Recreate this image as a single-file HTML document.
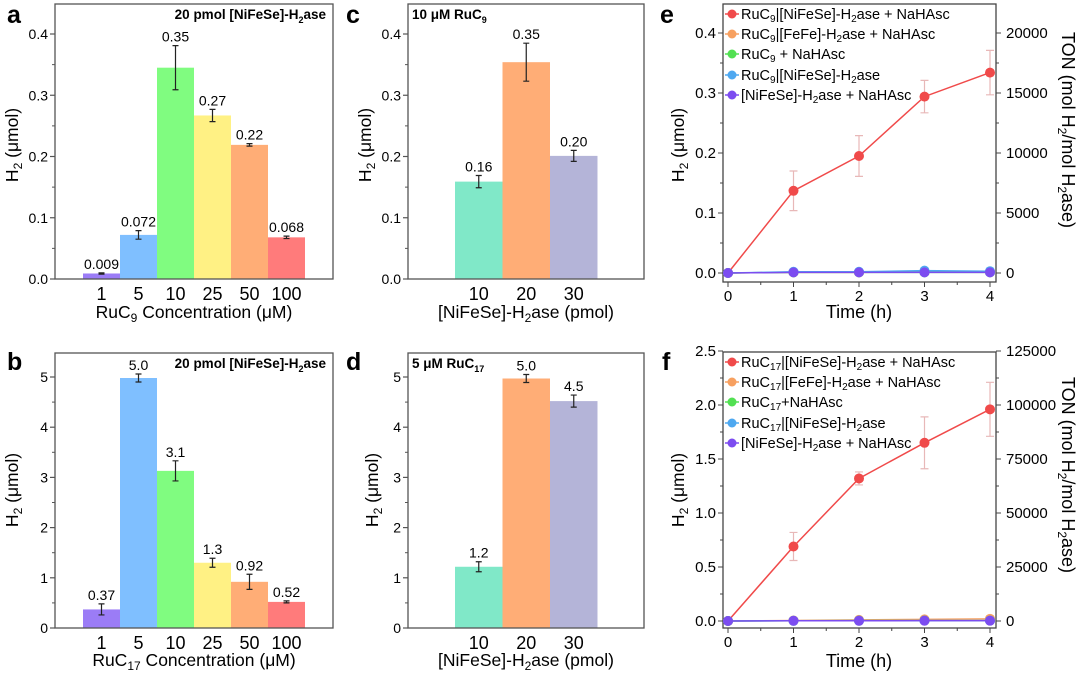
<!DOCTYPE html>
<html><head><meta charset="utf-8"><style>
html,body{margin:0;padding:0;background:#fff;}
svg{display:block;font-family:"Liberation Sans",Arial,sans-serif;}
</style></head><body>
<svg id="fig" width="1080" height="674" viewBox="0 0 1080 674" xmlns="http://www.w3.org/2000/svg">
<g font-weight="bold" font-size="25" fill="#000">
<text x="7" y="23">a</text>
<text x="7" y="370">b</text>
<text x="346" y="23">c</text>
<text x="346" y="370">d</text>
<text x="660" y="23">e</text>
<text x="662" y="370">f</text>
</g>
<g font-weight="bold" font-size="13.5">
<text x="326" y="19" text-anchor="end">20 pmol [NiFeSe]-H<tspan font-size="9" dy="4">2</tspan><tspan dy="-4">ase</tspan></text>
<text x="326" y="368" text-anchor="end">20 pmol [NiFeSe]-H<tspan font-size="9" dy="4">2</tspan><tspan dy="-4">ase</tspan></text>
<text x="412" y="19">10 μM RuC<tspan font-size="9" dy="4">9</tspan></text>
<text x="412" y="368">5 μM RuC<tspan font-size="9" dy="4">17</tspan></text>
</g>
<g font-size="17.5">
<text x="194" y="318" text-anchor="middle">RuC<tspan font-size="12" dy="4">9</tspan><tspan dy="-4"> Concentration (μM)</tspan></text>
<text x="194" y="666" text-anchor="middle">RuC<tspan font-size="12" dy="4">17</tspan><tspan dy="-4"> Concentration (μM)</tspan></text>
<text x="526" y="318" text-anchor="middle">[NiFeSe]-H<tspan font-size="12" dy="4">2</tspan><tspan dy="-4">ase (pmol)</tspan></text>
<text x="526" y="666" text-anchor="middle">[NiFeSe]-H<tspan font-size="12" dy="4">2</tspan><tspan dy="-4">ase (pmol)</tspan></text>
<text x="859" y="318" text-anchor="middle" font-size="18">Time (h)</text>
<text x="859" y="667" text-anchor="middle" font-size="18">Time (h)</text>
<text transform="translate(18,145) rotate(-90)" text-anchor="middle">H<tspan font-size="12" dy="4">2</tspan><tspan dy="-4"> (μmol)</tspan></text>
<text transform="translate(18,490) rotate(-90)" text-anchor="middle">H<tspan font-size="12" dy="4">2</tspan><tspan dy="-4"> (μmol)</tspan></text>
<text transform="translate(371,145) rotate(-90)" text-anchor="middle">H<tspan font-size="12" dy="4">2</tspan><tspan dy="-4"> (μmol)</tspan></text>
<text transform="translate(378,490) rotate(-90)" text-anchor="middle">H<tspan font-size="12" dy="4">2</tspan><tspan dy="-4"> (μmol)</tspan></text>
<text transform="translate(684,145) rotate(-90)" text-anchor="middle">H<tspan font-size="12" dy="4">2</tspan><tspan dy="-4"> (μmol)</tspan></text>
<text transform="translate(684,490) rotate(-90)" text-anchor="middle">H<tspan font-size="12" dy="4">2</tspan><tspan dy="-4"> (μmol)</tspan></text>
<text transform="translate(1062,130) rotate(90)" text-anchor="middle" font-size="18">TON (mol H<tspan font-size="12" dy="4">2</tspan><tspan dy="-4">/mol H</tspan><tspan font-size="12" dy="4">2</tspan><tspan dy="-4">ase)</tspan></text>
<text transform="translate(1062,475) rotate(90)" text-anchor="middle" font-size="18">TON (mol H<tspan font-size="12" dy="4">2</tspan><tspan dy="-4">/mol H</tspan><tspan font-size="12" dy="4">2</tspan><tspan dy="-4">ase)</tspan></text>
</g>
<g id="legend-e" font-size="14.5">
<text x="741" y="19">RuC<tspan font-size="10" dy="3">9</tspan><tspan dy="-3">|[NiFeSe]-H</tspan><tspan font-size="10" dy="3">2</tspan><tspan dy="-3">ase + NaHAsc</tspan></text>
<text x="741" y="39">RuC<tspan font-size="10" dy="3">9</tspan><tspan dy="-3">|[FeFe]-H</tspan><tspan font-size="10" dy="3">2</tspan><tspan dy="-3">ase + NaHAsc</tspan></text>
<text x="741" y="59">RuC<tspan font-size="10" dy="3">9</tspan><tspan dy="-3"> + NaHAsc</tspan></text>
<text x="741" y="80">RuC<tspan font-size="10" dy="3">9</tspan><tspan dy="-3">|[NiFeSe]-H</tspan><tspan font-size="10" dy="3">2</tspan><tspan dy="-3">ase</tspan></text>
<text x="741" y="100">[NiFeSe]-H<tspan font-size="10" dy="3">2</tspan><tspan dy="-3">ase + NaHAsc</tspan></text>
</g>
<g id="legend-f" font-size="14.5">
<text x="741" y="367">RuC<tspan font-size="10" dy="3">17</tspan><tspan dy="-3">|[NiFeSe]-H</tspan><tspan font-size="10" dy="3">2</tspan><tspan dy="-3">ase + NaHAsc</tspan></text>
<text x="741" y="387">RuC<tspan font-size="10" dy="3">17</tspan><tspan dy="-3">|[FeFe]-H</tspan><tspan font-size="10" dy="3">2</tspan><tspan dy="-3">ase + NaHAsc</tspan></text>
<text x="741" y="407">RuC<tspan font-size="10" dy="3">17</tspan><tspan dy="-3">+NaHAsc</tspan></text>
<text x="741" y="428">RuC<tspan font-size="10" dy="3">17</tspan><tspan dy="-3">|[NiFeSe]-H</tspan><tspan font-size="10" dy="3">2</tspan><tspan dy="-3">ase</tspan></text>
<text x="741" y="448">[NiFeSe]-H<tspan font-size="10" dy="3">2</tspan><tspan dy="-3">ase + NaHAsc</tspan></text>
</g>
</svg>
<script>
// ---- data ----
const catsA = ["1","5","10","25","50","100"];
const valsA = [0.009,0.072,0.345,0.267,0.219,0.068];
const errA = [0.001,0.007,0.036,0.010,0.002,0.002];
const lblA = ["0.009","0.072","0.35","0.27","0.22","0.068"];
const catsB = ["1","5","10","25","50","100"];
const valsB = [0.37,4.98,3.13,1.30,0.92,0.52];
const errB = [0.11,0.08,0.20,0.09,0.15,0.02];
const lblB = ["0.37","5.0","3.1","1.3","0.92","0.52"];
const catsC = ["10","20","30"];
const valsC = [0.159,0.354,0.201];
const errC = [0.010,0.031,0.009];
const lblC = ["0.16","0.35","0.20"];
const catsD = ["10","20","30"];
const valsD = [1.22,4.97,4.52];
const errD = [0.10,0.08,0.12];
const lblD = ["1.2","5.0","4.5"];
const ticksA = [0,0.1,0.2,0.3,0.4];
const ticksB = [0,1,2,3,4,5];
const timeX = [0,1,2,3,4];
const eRed = [0,0.137,0.195,0.294,0.334];
const eRedErr = [0,0.033,0.034,0.027,0.037];
const eOrange = [0,0.001,0.001,0.002,0.002];
const eGreen = [0,0.001,0.001,0.001,0.001];
const eBlue = [0,0.002,0.002,0.004,0.003];
const ePurple = [0,0.001,0.001,0.001,0.001];
const fRed = [0,0.69,1.32,1.65,1.96];
const fRedErr = [0,0.13,0.06,0.24,0.25];
const fOrange = [0,0.005,0.01,0.015,0.02];
const fGreen = [0,0.002,0.003,0.004,0.004];
const fBlue = [0,0.002,0.003,0.004,0.004];
const fPurple = [0,0.002,0.002,0.003,0.003];
const ticksE = [0,0.1,0.2,0.3,0.4];
const ticksE2 = [0,5000,10000,15000,20000];
const ticksF = [0,0.5,1.0,1.5,2.0,2.5];
const ticksF2 = [0,25000,50000,75000,100000,125000];

const NS="http://www.w3.org/2000/svg";
const svg=document.getElementById('fig');
function mk(tag,attrs,parent){const e=document.createElementNS(NS,tag);for(const k in attrs)e.setAttribute(k,attrs[k]);(parent||svg).appendChild(e);return e;}

function barPanel(name,box,ymax,y0px,ytopVal,ytopPx,ticks,tickFmt,cats,vals,errs,lbls,colors,barX0,barW){
  const g=mk('g',{});
  
  
  const ys=v=>y0px-(v/ytopVal)*(y0px-ytopPx);
  const xs=i=>barX0+i*barW;
  cats.forEach((c,i)=>{
    const r=mk('rect',{x:xs(i),y:ys(vals[i]),width:barW,height:y0px-ys(vals[i]),fill:colors[i]},g);
    
    
    const cx=xs(i)+barW/2, t=ys(vals[i]+errs[i]), b=ys(vals[i]-errs[i]);
    mk('path',{d:`M${cx},${t}V${b}M${cx-3},${t}H${cx+3}M${cx-3},${b}H${cx+3}`,stroke:'#222','stroke-width':1.2,fill:'none'},g);
    const lt=mk('text',{x:cx,y:t-4,'text-anchor':'middle','font-size':14},g);
    lt.textContent=lbls[i];
    
    
    const xt=mk('text',{x:cx,y:box.b+21,'text-anchor':'middle','font-size':18},g);
    xt.textContent=c;
    
    
  });
  mk('rect',{x:box.l,y:box.t,width:box.r-box.l,height:box.b-box.t,fill:'none',stroke:'#555','stroke-width':1.3},g);
  ticks.forEach((v,i)=>{
    const y=ys(v);
    mk('line',{x1:box.l-5,x2:box.l,y1:y,y2:y,stroke:'#555','stroke-width':1.2},g);
    if(i<ticks.length-1){const ym=ys((v+ticks[i+1])/2);mk('line',{x1:box.l-3,x2:box.l,y1:ym,y2:ym,stroke:'#555','stroke-width':1},g);}
    const t=mk('text',{x:box.l-7,y:y+5,'text-anchor':'end','font-size':14},g);
    t.textContent=tickFmt(v);
    
    
  });
}
const rainbow=['#9b7cf6','#7fbfff','#80fc80','#fff184','#ffad76','#ff7b7b'];
const trio=['#80e8c8','#ffad76','#b4b4d8'];
barPanel('panel-a',{l:55,r:333,t:4,b:279},0,279,0.4,34,ticksA,v=>v.toFixed(1),catsA,valsA,errA,lblA,rainbow,83,37);
barPanel('panel-b',{l:55,r:333,t:353,b:628},0,628,5,377,ticksB,v=>String(v),catsB,valsB,errB,lblB,rainbow,83,37);
barPanel('panel-c',{l:408,r:644,t:4,b:279},0,279,0.4,34,ticksA,v=>v.toFixed(1),catsC,valsC,errC,lblC,trio,455,47.5);
barPanel('panel-d',{l:408,r:644,t:353,b:628},0,628,5,377,ticksB,v=>String(v),catsD,valsD,errD,lblD,trio,455,47.5);

const lineCols=['#f04a4a','#f7a060','#52e052','#4ea8f0','#7c4cf0'];
function linePanel(name,box,y0px,ytopVal,ytopPx,ticks,fmt,ticks2,series,redErr,legY){
  const g=mk('g',{});
  
  
  const ys=v=>y0px-(v/ytopVal)*(y0px-ytopPx);
  const xs=t=>728+t*(990-728)/4;
  mk('rect',{x:box.l,y:box.t,width:box.r-box.l,height:box.b-box.t,fill:'none',stroke:'#444','stroke-width':1.3},g);
  ticks.forEach((v,i)=>{
    const y=ys(v);
    mk('line',{x1:box.l-5,x2:box.l,y1:y,y2:y,stroke:'#444'},g);
    mk('line',{x1:box.r,x2:box.r+5,y1:y,y2:y,stroke:'#444'},g);
    if(i<ticks.length-1){const ym=ys((v+ticks[i+1])/2);mk('line',{x1:box.l-3,x2:box.l,y1:ym,y2:ym,stroke:'#444'},g);mk('line',{x1:box.r,x2:box.r+3,y1:ym,y2:ym,stroke:'#444'},g);}
    const t=mk('text',{x:box.l-7,y:y+5,'text-anchor':'end','font-size':15},g);t.textContent=fmt(v);
    
    
    const t2=mk('text',{x:box.r+10,y:y+5,'font-size':15},g);t2.textContent=String(ticks2[i]);
    
    
  });
  timeX.forEach((t,i)=>{
    const x=xs(t);
    mk('line',{x1:x,x2:x,y1:box.b,y2:box.b+5,stroke:'#444'},g);
    if(i<4){const xm=xs(t+0.5);mk('line',{x1:xm,x2:xm,y1:box.b,y2:box.b+3,stroke:'#444'},g);}
    const tl=mk('text',{x:x,y:box.b+19,'text-anchor':'middle','font-size':15},g);tl.textContent=String(t);
    
    
  });
  timeX.forEach((t,i)=>{
    if(redErr[i]>0){const x=xs(t),a=ys(series[0][i]+redErr[i]),b=ys(series[0][i]-redErr[i]);
    mk('path',{d:`M${x},${a}V${b}M${x-4},${a}H${x+4}M${x-4},${b}H${x+4}`,stroke:'#e8b8b8','stroke-width':1.2,fill:'none'},g);}
  });
  for(let s=0;s<series.length;s++){
    const pts=timeX.map((t,i)=>xs(t)+','+ys(series[s][i])).join(' ');
    const pl=mk('polyline',{points:pts,fill:'none',stroke:lineCols[s],'stroke-width':1.5},g);
    
    
    timeX.forEach((t,i)=>{
      const c=mk('circle',{cx:xs(t),cy:ys(series[s][i]),r:5,fill:lineCols[s]},g);
      
      
    });
  }
  legY.forEach((y,i)=>{
    mk('line',{x1:725,x2:739,y1:y,y2:y,stroke:lineCols[i],'stroke-width':1.5},g);
    mk('circle',{cx:732,cy:y,r:4.5,fill:lineCols[i]},g);
  });
}
linePanel('panel-e',{l:723,r:996,t:4,b:282},273,0.4,33,ticksE,v=>v.toFixed(1),ticksE2,[eRed,eOrange,eGreen,eBlue,ePurple],eRedErr,[14,34,54,75,95]);
linePanel('panel-f',{l:723,r:996,t:352,b:628},621,2.5,351,ticksF,v=>v.toFixed(1),ticksF2,[fRed,fOrange,fGreen,fBlue,fPurple],fRedErr,[362,382,402,423,443]);
</script>
</body></html>
